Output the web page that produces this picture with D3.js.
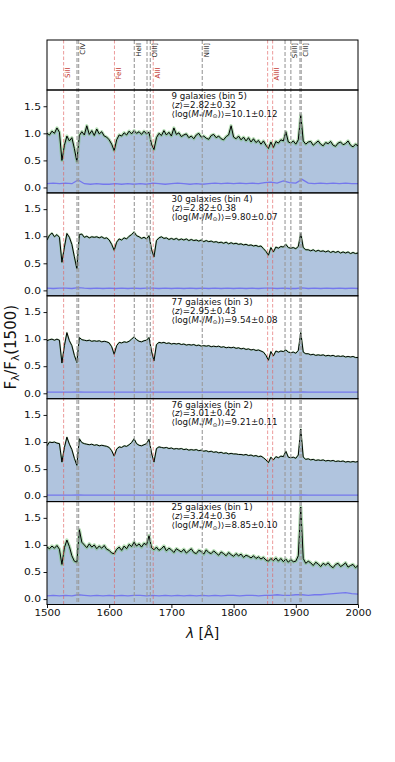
<!DOCTYPE html>
<html><head><meta charset="utf-8">
<script src="https://cdn.jsdelivr.net/npm/d3@7"></script>
<style>body{margin:0;background:#fff;} svg{display:block;font-family:"DejaVu Sans",sans-serif;}</style>
</head><body><svg id="c" width="395" height="762"></svg>
<script>
// ---------------- data ----------------
const wavelength = d3.range(1500, 2001, 4);       // flux sampling grid (Å)
const noiseWavelength = d3.range(1500, 2001, 10); // noise sampling grid (Å)

const nGalaxies = [9, 30, 77, 76, 25];
const binNumbers = [5, 4, 3, 2, 1];
const zLabels = ["2.82±0.32", "2.82±0.38", "2.95±0.43", "3.01±0.42", "3.24±0.36"];
const massLabels = ["10.1±0.12", "9.80±0.07", "9.54±0.08", "9.21±0.11", "8.85±0.10"];

const fluxBin5 = [1.00,0.97,1.04,1.00,1.10,1.02,0.50,0.78,0.95,0.86,
 0.92,0.72,0.48,0.96,1.03,0.97,1.14,0.98,1.05,0.96,
 1.08,0.99,1.03,0.95,0.93,0.88,0.80,0.68,0.88,0.97,
 0.95,1.01,0.97,1.04,0.99,1.05,1.00,1.03,0.98,1.04,
 0.99,1.02,0.80,0.70,0.92,1.00,0.96,1.05,0.97,1.02,
 0.95,1.10,0.98,1.01,0.94,0.97,0.99,0.92,0.95,0.90,
 0.97,1.00,0.93,0.95,0.91,0.89,0.96,0.98,0.92,0.95,
 0.90,0.88,0.94,0.97,1.14,0.93,0.90,0.95,0.88,0.93,
 0.86,0.92,0.84,0.90,0.83,0.87,0.80,0.86,0.78,0.72,
 0.84,0.74,0.85,0.82,0.88,0.86,1.03,0.84,0.82,0.86,
 0.80,0.88,1.34,0.86,0.80,0.84,0.85,0.78,0.82,0.86,
 0.80,0.77,0.83,0.81,0.85,0.78,0.76,0.82,0.84,0.79,
 0.81,0.86,0.78,0.75,0.80,0.77];

const fluxBin4 = [0.93,1.02,1.06,0.99,1.03,0.98,0.52,0.80,1.05,0.98,
 0.85,0.62,0.40,1.03,1.04,0.98,1.00,0.97,0.99,0.98,
 0.99,0.97,0.99,0.96,0.97,0.93,0.85,0.74,0.89,0.95,
 0.93,0.97,0.95,1.00,1.03,1.08,1.01,0.99,0.96,0.98,
 0.95,1.01,0.76,0.62,0.92,0.97,0.99,0.96,0.97,0.94,
 0.96,0.94,0.96,0.93,0.95,0.93,0.95,0.92,0.94,0.92,
 0.93,0.91,0.93,0.90,0.92,0.90,0.91,0.89,0.90,0.88,
 0.89,0.87,0.89,0.86,0.88,0.86,0.87,0.85,0.86,0.84,
 0.85,0.83,0.84,0.82,0.83,0.81,0.82,0.77,0.72,0.65,
 0.79,0.71,0.80,0.78,0.81,0.80,0.85,0.79,0.78,0.79,
 0.77,0.81,1.05,0.79,0.75,0.75,0.73,0.75,0.72,0.74,
 0.72,0.73,0.71,0.73,0.70,0.72,0.70,0.72,0.69,0.71,
 0.69,0.71,0.68,0.70,0.68,0.69];

const fluxBin3 = [0.97,0.99,1.00,0.98,1.00,0.98,0.56,0.88,1.12,0.97,
 0.88,0.70,0.57,1.03,0.99,0.98,0.97,0.98,0.96,0.97,
 0.96,0.97,0.95,0.96,0.95,0.93,0.86,0.72,0.88,0.94,
 0.93,0.95,0.94,0.96,1.00,1.04,0.99,0.96,0.95,0.97,
 0.98,1.03,0.78,0.60,0.90,0.94,0.93,0.94,0.92,0.93,
 0.91,0.92,0.91,0.92,0.90,0.91,0.89,0.90,0.89,0.90,
 0.88,0.89,0.87,0.88,0.87,0.88,0.86,0.87,0.86,0.87,
 0.85,0.86,0.84,0.85,0.84,0.85,0.83,0.84,0.82,0.83,
 0.81,0.82,0.80,0.81,0.79,0.80,0.78,0.76,0.70,0.61,
 0.77,0.69,0.78,0.76,0.78,0.77,0.80,0.76,0.75,0.76,
 0.74,0.79,1.12,0.76,0.73,0.73,0.71,0.72,0.70,0.71,
 0.70,0.71,0.69,0.70,0.69,0.70,0.68,0.69,0.68,0.69,
 0.67,0.68,0.67,0.68,0.66,0.66];

const fluxBin2 = [0.93,1.00,0.99,1.00,0.98,0.97,0.63,0.90,1.09,0.96,
 0.86,0.70,0.57,1.06,0.99,0.97,0.96,0.95,0.96,0.94,
 0.95,0.93,0.94,0.93,0.92,0.90,0.84,0.74,0.87,0.91,
 0.90,0.93,0.92,0.95,0.99,1.06,0.97,0.94,0.93,0.95,
 0.97,1.05,0.80,0.63,0.88,0.91,0.90,0.89,0.90,0.88,
 0.89,0.87,0.88,0.87,0.88,0.86,0.87,0.85,0.86,0.85,
 0.86,0.84,0.85,0.83,0.84,0.82,0.83,0.81,0.82,0.80,
 0.81,0.79,0.80,0.78,0.79,0.78,0.78,0.77,0.77,0.76,
 0.77,0.75,0.76,0.74,0.75,0.73,0.74,0.71,0.67,0.62,
 0.72,0.67,0.73,0.71,0.74,0.73,0.83,0.72,0.71,0.72,
 0.70,0.76,1.24,0.72,0.68,0.69,0.67,0.68,0.66,0.67,
 0.66,0.67,0.65,0.66,0.65,0.66,0.64,0.65,0.64,0.65,
 0.63,0.64,0.63,0.64,0.63,0.64];

const fluxBin1 = [0.96,0.93,0.98,0.94,0.99,0.92,0.64,0.95,1.09,0.97,
 0.80,0.70,0.68,1.28,1.05,1.00,0.95,1.02,0.96,1.00,
 0.93,0.98,0.94,0.99,0.92,0.90,0.85,0.84,0.92,0.96,
 0.90,0.98,0.93,1.01,0.97,1.05,0.98,1.02,0.96,1.03,
 1.00,1.17,0.95,0.91,0.96,0.90,0.93,0.98,0.89,0.94,
 0.91,0.86,0.93,0.90,0.87,0.92,0.85,0.89,0.93,0.86,
 0.84,0.90,0.88,0.83,0.91,0.86,0.84,0.89,0.85,0.81,
 0.87,0.84,0.80,0.86,0.82,0.79,0.84,0.80,0.83,0.77,
 0.81,0.79,0.76,0.80,0.75,0.78,0.74,0.77,0.72,0.70,
 0.75,0.71,0.76,0.70,0.75,0.69,0.74,0.68,0.73,0.69,
 0.70,0.80,1.70,0.75,0.66,0.70,0.67,0.62,0.68,0.65,
 0.60,0.66,0.63,0.67,0.61,0.58,0.64,0.66,0.60,0.63,
 0.67,0.59,0.62,0.64,0.58,0.62];

const noiseBin5 = [0.07,0.08,0.07,0.08,0.07,0.14,0.07,0.06,0.07,0.06,
 0.06,0.07,0.06,0.07,0.06,0.07,0.06,0.08,0.07,0.06,
 0.07,0.08,0.07,0.06,0.07,0.06,0.07,0.08,0.07,0.08,
 0.07,0.08,0.07,0.08,0.07,0.09,0.10,0.08,0.12,0.09,
 0.08,0.15,0.08,0.07,0.08,0.07,0.08,0.07,0.08,0.07,0.07];
const noiseBin4 = [0.04,0.035,0.04,0.04,0.035,0.05,0.04,0.035,0.04,0.035,
 0.04,0.035,0.04,0.035,0.04,0.035,0.04,0.04,0.035,0.04,
 0.035,0.04,0.035,0.04,0.035,0.04,0.035,0.04,0.035,0.04,
 0.035,0.04,0.035,0.04,0.035,0.04,0.04,0.035,0.04,0.035,
 0.035,0.045,0.035,0.04,0.035,0.04,0.035,0.04,0.035,0.04,0.035];
const noiseBin3 = [0.02,0.02,0.02,0.02,0.02,0.025,0.02,0.02,0.02,0.02,
 0.02,0.02,0.02,0.02,0.02,0.02,0.02,0.02,0.02,0.02,
 0.02,0.02,0.02,0.02,0.02,0.02,0.02,0.02,0.02,0.02,
 0.02,0.02,0.02,0.02,0.02,0.02,0.02,0.02,0.02,0.02,
 0.02,0.025,0.02,0.02,0.02,0.02,0.02,0.02,0.02,0.02,0.02];
const noiseBin2 = [0.02,0.02,0.02,0.02,0.02,0.025,0.02,0.02,0.02,0.02,
 0.02,0.02,0.02,0.02,0.02,0.02,0.02,0.02,0.02,0.02,
 0.02,0.02,0.02,0.02,0.02,0.02,0.02,0.02,0.02,0.02,
 0.02,0.02,0.02,0.02,0.02,0.02,0.02,0.02,0.02,0.02,
 0.02,0.025,0.02,0.02,0.02,0.02,0.02,0.02,0.02,0.02,0.02];
const noiseBin1 = [0.06,0.07,0.06,0.07,0.06,0.08,0.07,0.06,0.07,0.06,
 0.07,0.06,0.07,0.06,0.07,0.07,0.06,0.07,0.06,0.07,
 0.06,0.07,0.06,0.07,0.06,0.07,0.06,0.07,0.06,0.07,
 0.07,0.06,0.07,0.07,0.06,0.07,0.07,0.08,0.07,0.07,
 0.08,0.08,0.07,0.08,0.08,0.09,0.10,0.11,0.12,0.10,0.09];

const emissionLines = [1548.19, 1550.77, 1640.42, 1660.81, 1666.15, 1749.67, 1882.71, 1892.03, 1906.68, 1908.73];
const absorptionLines = [1526.71, 1608.45, 1670.79, 1854.72, 1862.79];
const emissionLabels = ["CIV", "HeII", "OIII]", "NIII]", "SiIII]", "CIII]"];
const emissionLabelWave = [1550.77, 1640.42, 1666.15, 1749.67, 1892.03, 1908.73];
const absorptionLabels = ["SiII", "FeII", "AlII", "AlIII"];
const absorptionLabelWave = [1526.71, 1608.45, 1670.79, 1862.79];

const xTicks = [1500, 1600, 1700, 1800, 1900, 2000];
const yTicks = [0.0, 0.5, 1.0, 1.5];

// ---------------- layout ----------------
const L = 47, R = 358, topY = 40, topH = 50, panelTop = 90, panelH = 102.9;
const fluxes = [fluxBin5, fluxBin4, fluxBin3, fluxBin2, fluxBin1];
const noises = [noiseBin5, noiseBin4, noiseBin3, noiseBin2, noiseBin1];
const greenW = [3.2, 2.0, 1.6, 1.6, 3.4];

const svg = d3.select("#c");
const x = d3.scaleLinear().domain([1500, 2000]).range([L, R]);
const bottom = panelTop + 5 * panelH;

svg.append("clipPath").attr("id", "all").append("rect")
  .attr("x", L).attr("y", topY).attr("width", R - L).attr("height", bottom - topY);

const panels = fluxes.map((flux, k) => {
  const y0 = panelTop + k * panelH;
  const y = d3.scaleLinear().domain([-0.1, 1.8]).range([y0 + panelH, y0]);
  const cid = "clip" + k;
  svg.append("clipPath").attr("id", cid).append("rect")
    .attr("x", L).attr("y", y0).attr("width", R - L).attr("height", panelH);
  const g = svg.append("g").attr("clip-path", `url(#${cid})`);
  const pts = wavelength.map((w, i) => ({ w, f: flux[i] }));
  const npts = noiseWavelength.map((w, i) => ({ w, f: noises[k][i] }));

  g.append("path").datum(pts)
    .attr("d", d3.area().x(d => x(d.w)).y0(y0 + panelH + 2).y1(d => y(d.f)))
    .attr("fill", "#b0c4de");
  g.append("path").datum(pts)
    .attr("d", d3.line().x(d => x(d.w)).y(d => y(d.f)))
    .attr("fill", "none").attr("stroke", "#7cc47c").attr("stroke-opacity", 0.55)
    .attr("stroke-width", greenW[k]).attr("stroke-linejoin", "round");
  g.append("path").datum(npts)
    .attr("d", d3.line().x(d => x(d.w)).y(d => y(d.f)))
    .attr("fill", "none").attr("stroke", "#6a6af0").attr("stroke-opacity", 0.85)
    .attr("stroke-width", 1.3);
  return { y, y0, g, pts };
});

// vertical line markers over all panels
const vg = svg.append("g").attr("clip-path", "url(#all)");
vg.selectAll("line.em").data(emissionLines).join("line")
  .attr("x1", d => x(d)).attr("x2", d => x(d)).attr("y1", topY).attr("y2", bottom)
  .attr("stroke", "#9a9a9a").attr("stroke-width", 1.3).attr("stroke-dasharray", "4,2").attr("stroke-opacity", 0.85);
vg.selectAll("line.ab").data(absorptionLines).join("line")
  .attr("x1", d => x(d)).attr("x2", d => x(d)).attr("y1", topY).attr("y2", bottom)
  .attr("stroke", "#e06060").attr("stroke-width", 0.9).attr("stroke-dasharray", "3.5,2").attr("stroke-opacity", 0.7);

panels.forEach((p, k) => {
  const { y, y0, g, pts } = p;
  g.append("path").datum(pts)
    .attr("d", d3.line().x(d => x(d.w)).y(d => y(d.f)))
    .attr("fill", "none").attr("stroke", "#000").attr("stroke-width", 1).attr("stroke-linejoin", "round");

  // annotation
  const t = svg.append("g").attr("transform", `translate(171.5,${y0 + 8.8}) scale(1.1,1)`)
    .attr("font-size", 7.9).attr("fill", "#111");
  t.append("text").attr("x", 0).attr("y", 0).text(`${nGalaxies[k]} galaxies (bin ${binNumbers[k]})`);
  const t2 = t.append("text").attr("x", 0).attr("y", 9);
  t2.append("tspan").text("⟨");
  t2.append("tspan").attr("font-style", "italic").text("z");
  t2.append("tspan").text("⟩=" + zLabels[k]);
  const t3 = t.append("text").attr("x", 0).attr("y", 18);
  t3.append("tspan").text("⟨log(");
  t3.append("tspan").attr("font-style", "italic").text("M");
  t3.append("tspan").attr("font-size", 5.5).attr("dy", 1.5).text("*");
  t3.append("tspan").attr("dy", -1.5).text("/");
  t3.append("tspan").attr("font-style", "italic").text("M");
  t3.append("tspan").attr("font-size", 5.5).attr("dy", 1.5).text("⊙");
  t3.append("tspan").attr("dy", -1.5).text(")⟩=" + massLabels[k]);

  // y axis
  const ax = svg.append("g").attr("transform", `translate(${L},0)`)
    .call(d3.axisLeft(y).tickValues(yTicks).tickSize(3.5).tickPadding(2.5).tickFormat(d3.format(".1f")));
  ax.select(".domain").remove();
  ax.selectAll(".tick line").attr("stroke", "#000").attr("stroke-width", 0.9);
  ax.selectAll(".tick text").attr("x", 0).attr("transform", "translate(-6,0) scale(1.25,1)")
    .attr("font-size", 8.6).attr("font-family", "DejaVu Sans").attr("fill", "#111");

  svg.append("rect").attr("x", L).attr("y", y0).attr("width", R - L).attr("height", panelH)
    .attr("fill", "none").attr("stroke", "#000").attr("stroke-width", 1);
});

// top label panel
svg.append("rect").attr("x", L).attr("y", topY).attr("width", R - L).attr("height", topH)
  .attr("fill", "none").attr("stroke", "#000").attr("stroke-width", 1);
svg.selectAll("text.eml").data(emissionLabels).join("text")
  .attr("transform", (d, i) => `translate(${x(emissionLabelWave[i]) + 6.6},43) rotate(-90)`)
  .attr("text-anchor", "end").attr("font-size", 7).attr("fill", "#222").text(d => d);
svg.selectAll("text.abl").data(absorptionLabels).join("text")
  .attr("transform", (d, i) => `translate(${x(absorptionLabelWave[i]) + 6.6},67.5) rotate(-90)`)
  .attr("text-anchor", "end").attr("font-size", 7).attr("fill", "#c0302a").text(d => d);

// x axis
const xa = svg.append("g").attr("transform", `translate(0,${bottom})`)
  .call(d3.axisBottom(x).tickValues(xTicks).tickSize(3.5).tickPadding(2).tickFormat(d3.format("d")));
xa.select(".domain").remove();
xa.selectAll(".tick line").attr("stroke", "#000").attr("stroke-width", 0.9);
xa.selectAll(".tick text").attr("transform", "scale(1.2,1)").attr("font-size", 8.6)
  .attr("font-family", "DejaVu Sans").attr("fill", "#111");

// axis titles
const xl = svg.append("text").attr("x", (L + R) / 2).attr("y", 638).attr("text-anchor", "middle")
  .attr("font-size", 14).attr("fill", "#111");
xl.append("tspan").attr("font-style", "italic").text("λ");
xl.append("tspan").text(" [Å]");

const yl = svg.append("text").attr("transform", `translate(16,${(panelTop + bottom) / 2}) rotate(-90)`)
  .attr("text-anchor", "middle").attr("font-size", 15).attr("fill", "#111");
yl.append("tspan").text("F");
yl.append("tspan").attr("font-size", 10.5).attr("dy", 3).text("λ");
yl.append("tspan").attr("dy", -3).text("/F");
yl.append("tspan").attr("font-size", 10.5).attr("dy", 3).text("λ");
yl.append("tspan").attr("dy", -3).text("(1500)");
</script></body></html>
